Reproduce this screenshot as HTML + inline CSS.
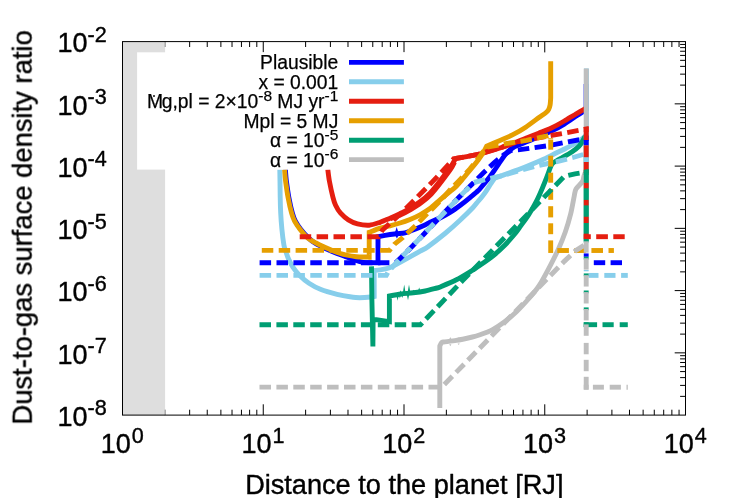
<!DOCTYPE html>
<html><head><meta charset="utf-8"><title>Dust-to-gas surface density ratio</title>
<style>html,body{margin:0;padding:0;background:#fff}svg{display:block}text{font-family:"Liberation Sans",sans-serif;fill:#000;stroke:#000;stroke-width:0.4px;stroke-linejoin:round}</style>
</head><body>
<svg width="747" height="498" viewBox="0 0 747 498">
<rect x="0" y="0" width="747" height="498" fill="#fff"/>
<g stroke="#000" stroke-width="1" fill="none">
<path d="M164.87 415.10V409.70M164.87 41.60V47.00"/>
<path d="M189.65 415.10V409.70M189.65 41.60V47.00"/>
<path d="M207.24 415.10V409.70M207.24 41.60V47.00"/>
<path d="M220.88 415.10V409.70M220.88 41.60V47.00"/>
<path d="M232.02 415.10V409.70M232.02 41.60V47.00"/>
<path d="M241.45 415.10V409.70M241.45 41.60V47.00"/>
<path d="M249.61 415.10V409.70M249.61 41.60V47.00"/>
<path d="M256.81 415.10V409.70M256.81 41.60V47.00"/>
<path d="M263.25 415.10V404.30M263.25 41.60V52.40"/>
<path d="M305.62 415.10V409.70M305.62 41.60V47.00"/>
<path d="M330.40 415.10V409.70M330.40 41.60V47.00"/>
<path d="M347.99 415.10V409.70M347.99 41.60V47.00"/>
<path d="M361.63 415.10V409.70M361.63 41.60V47.00"/>
<path d="M372.77 415.10V409.70M372.77 41.60V47.00"/>
<path d="M382.20 415.10V409.70M382.20 41.60V47.00"/>
<path d="M390.36 415.10V409.70M390.36 41.60V47.00"/>
<path d="M397.56 415.10V409.70M397.56 41.60V47.00"/>
<path d="M404.00 415.10V404.30M404.00 41.60V52.40"/>
<path d="M446.37 415.10V409.70M446.37 41.60V47.00"/>
<path d="M471.15 415.10V409.70M471.15 41.60V47.00"/>
<path d="M488.74 415.10V409.70M488.74 41.60V47.00"/>
<path d="M502.38 415.10V409.70M502.38 41.60V47.00"/>
<path d="M513.52 415.10V409.70M513.52 41.60V47.00"/>
<path d="M522.95 415.10V409.70M522.95 41.60V47.00"/>
<path d="M531.11 415.10V409.70M531.11 41.60V47.00"/>
<path d="M538.31 415.10V409.70M538.31 41.60V47.00"/>
<path d="M544.75 415.10V404.30M544.75 41.60V52.40"/>
<path d="M587.12 415.10V409.70M587.12 41.60V47.00"/>
<path d="M611.90 415.10V409.70M611.90 41.60V47.00"/>
<path d="M629.49 415.10V409.70M629.49 41.60V47.00"/>
<path d="M643.13 415.10V409.70M643.13 41.60V47.00"/>
<path d="M654.27 415.10V409.70M654.27 41.60V47.00"/>
<path d="M663.70 415.10V409.70M663.70 41.60V47.00"/>
<path d="M671.86 415.10V409.70M671.86 41.60V47.00"/>
<path d="M679.06 415.10V409.70M679.06 41.60V47.00"/>
<path d="M122.50 352.85H133.30M685.50 352.85H674.70"/>
<path d="M122.50 290.60H133.30M685.50 290.60H674.70"/>
<path d="M122.50 228.35H133.30M685.50 228.35H674.70"/>
<path d="M122.50 166.10H133.30M685.50 166.10H674.70"/>
<path d="M122.50 103.85H133.30M685.50 103.85H674.70"/>
<path d="M122.50 396.36H127.90M685.50 396.36H680.10"/>
<path d="M122.50 385.40H127.90M685.50 385.40H680.10"/>
<path d="M122.50 377.62H127.90M685.50 377.62H680.10"/>
<path d="M122.50 371.59H127.90M685.50 371.59H680.10"/>
<path d="M122.50 366.66H127.90M685.50 366.66H680.10"/>
<path d="M122.50 362.49H127.90M685.50 362.49H680.10"/>
<path d="M122.50 358.88H127.90M685.50 358.88H680.10"/>
<path d="M122.50 355.70H127.90M685.50 355.70H680.10"/>
<path d="M122.50 334.11H127.90M685.50 334.11H680.10"/>
<path d="M122.50 323.15H127.90M685.50 323.15H680.10"/>
<path d="M122.50 315.37H127.90M685.50 315.37H680.10"/>
<path d="M122.50 309.34H127.90M685.50 309.34H680.10"/>
<path d="M122.50 304.41H127.90M685.50 304.41H680.10"/>
<path d="M122.50 300.24H127.90M685.50 300.24H680.10"/>
<path d="M122.50 296.63H127.90M685.50 296.63H680.10"/>
<path d="M122.50 293.45H127.90M685.50 293.45H680.10"/>
<path d="M122.50 271.86H127.90M685.50 271.86H680.10"/>
<path d="M122.50 260.90H127.90M685.50 260.90H680.10"/>
<path d="M122.50 253.12H127.90M685.50 253.12H680.10"/>
<path d="M122.50 247.09H127.90M685.50 247.09H680.10"/>
<path d="M122.50 242.16H127.90M685.50 242.16H680.10"/>
<path d="M122.50 237.99H127.90M685.50 237.99H680.10"/>
<path d="M122.50 234.38H127.90M685.50 234.38H680.10"/>
<path d="M122.50 231.20H127.90M685.50 231.20H680.10"/>
<path d="M122.50 209.61H127.90M685.50 209.61H680.10"/>
<path d="M122.50 198.65H127.90M685.50 198.65H680.10"/>
<path d="M122.50 190.87H127.90M685.50 190.87H680.10"/>
<path d="M122.50 184.84H127.90M685.50 184.84H680.10"/>
<path d="M122.50 179.91H127.90M685.50 179.91H680.10"/>
<path d="M122.50 175.74H127.90M685.50 175.74H680.10"/>
<path d="M122.50 172.13H127.90M685.50 172.13H680.10"/>
<path d="M122.50 168.95H127.90M685.50 168.95H680.10"/>
<path d="M122.50 147.36H127.90M685.50 147.36H680.10"/>
<path d="M122.50 136.40H127.90M685.50 136.40H680.10"/>
<path d="M122.50 128.62H127.90M685.50 128.62H680.10"/>
<path d="M122.50 122.59H127.90M685.50 122.59H680.10"/>
<path d="M122.50 117.66H127.90M685.50 117.66H680.10"/>
<path d="M122.50 113.49H127.90M685.50 113.49H680.10"/>
<path d="M122.50 109.88H127.90M685.50 109.88H680.10"/>
<path d="M122.50 106.70H127.90M685.50 106.70H680.10"/>
<path d="M122.50 85.11H127.90M685.50 85.11H680.10"/>
<path d="M122.50 74.15H127.90M685.50 74.15H680.10"/>
<path d="M122.50 66.37H127.90M685.50 66.37H680.10"/>
<path d="M122.50 60.34H127.90M685.50 60.34H680.10"/>
<path d="M122.50 55.41H127.90M685.50 55.41H680.10"/>
<path d="M122.50 51.24H127.90M685.50 51.24H680.10"/>
<path d="M122.50 47.63H127.90M685.50 47.63H680.10"/>
<path d="M122.50 44.45H127.90M685.50 44.45H680.10"/>
</g>
<rect x="122.5" y="41.6" width="42.6" height="373.5" fill="#dedede"/>
<path stroke="#b4b4b4" stroke-width="1" d="M164.87 415.10V409.70M164.87 41.60V47.00"/>
<g fill="none" stroke-linejoin="miter" stroke-miterlimit="3" stroke-linecap="butt" stroke-width="4.9">
<path stroke="#0000ff" d="M285.4 169.5C285.5 171.0 285.9 177.4 286.4 181.1C286.9 184.8 288.0 192.8 288.8 197.1C289.6 201.4 291.5 210.0 292.4 213.2C293.3 216.4 294.3 219.1 295.4 221.2C296.5 223.3 299.0 227.1 300.7 229.3C302.4 231.5 306.1 235.7 308.1 237.6C310.1 239.5 313.8 242.4 316.0 243.8C318.2 245.2 321.9 246.8 324.3 247.9C326.7 249.0 331.4 251.1 334.0 252.2C336.6 253.3 341.6 255.1 344.0 256.0C346.4 256.9 349.9 258.3 352.0 259.0C354.1 259.7 358.1 261.1 360.0 261.6C361.9 262.1 363.6 262.5 366.0 262.6C368.4 262.7 376.4 262.7 378.0 262.7L378.0 236.6C378.9 236.4 382.5 235.7 385.0 235.3C387.5 234.9 393.9 234.1 396.6 233.8C399.3 233.5 402.5 233.5 405.0 232.9C407.5 232.3 412.3 230.4 415.0 229.3C417.7 228.2 423.0 225.9 425.0 225.0C427.0 224.1 428.0 223.2 430.0 222.3C432.0 221.4 437.3 219.3 440.0 218.0C442.7 216.7 447.3 214.2 450.0 212.5C452.7 210.8 457.3 207.5 460.0 205.5C462.7 203.5 467.6 199.6 470.0 197.6C472.4 195.6 476.0 192.8 478.0 190.8C480.0 188.8 483.6 184.4 485.2 182.5C486.8 180.6 488.8 178.1 490.0 176.5C491.2 174.9 492.7 172.9 494.2 170.7C495.7 168.5 499.8 162.3 501.5 159.9C503.2 157.5 505.5 154.3 506.9 152.7C508.3 151.1 510.8 149.1 512.3 148.1C513.8 147.1 515.6 146.2 518.0 145.2C520.4 144.2 525.5 142.4 530.0 140.5C534.5 138.6 546.8 133.3 551.4 131.1C556.0 128.9 560.9 126.2 564.3 124.1C567.7 122.0 574.5 117.1 577.1 115.4C579.7 113.7 582.3 112.2 583.5 111.4C584.7 110.6 585.7 109.8 586.1 109.5L586.1 84.0"/>
<path stroke="#87ceeb" d="M279.8 169.5C279.9 173.2 280.1 191.3 280.2 197.1C280.3 202.9 280.5 208.9 280.7 213.2C280.9 217.5 281.5 225.1 281.9 229.3C282.3 233.5 283.4 242.1 283.9 245.0C284.4 247.9 285.1 249.2 285.7 251.1C286.3 253.0 287.6 257.0 288.6 259.1C289.6 261.2 291.5 265.0 292.9 267.1C294.3 269.2 297.3 273.1 299.4 275.2C301.5 277.3 306.1 281.3 309.0 283.2C311.9 285.1 317.3 288.1 321.0 289.6C324.7 291.1 333.2 293.4 337.1 294.4C341.0 295.4 347.0 296.4 350.0 296.8C353.0 297.2 356.8 297.7 359.6 297.7C362.4 297.7 368.9 297.2 370.8 297.0C372.7 296.8 373.7 296.6 374.2 296.5L374.2 270.5C375.0 270.4 378.2 270.1 380.0 269.8C381.8 269.5 385.9 269.0 388.0 268.3C390.1 267.6 393.9 265.7 396.0 264.6C398.1 263.5 400.9 262.0 404.1 260.2C407.3 258.4 417.0 253.0 420.2 251.2C423.4 249.4 424.7 249.1 428.0 246.7C431.3 244.3 440.7 237.0 445.0 233.5C449.3 230.0 456.3 223.8 460.0 220.3C463.7 216.8 470.6 210.0 473.0 207.5C475.4 205.0 476.8 202.9 478.0 201.5C479.2 200.1 480.9 198.1 482.0 196.7C483.1 195.3 484.9 192.9 486.0 191.3C487.1 189.7 488.9 186.7 490.0 185.0C491.1 183.3 493.9 179.2 494.5 178.3C496.6 177.5 506.0 174.1 510.3 172.5C514.6 170.9 521.9 168.3 526.4 166.5C530.9 164.7 540.1 160.8 544.1 159.0C548.1 157.2 553.2 154.4 556.1 153.0C559.0 151.6 563.7 149.4 566.1 148.2C568.5 147.0 572.0 145.3 574.1 144.0C576.2 142.7 580.5 140.0 582.1 138.8C583.7 137.6 585.8 135.5 586.4 135.0L586.4 68.6"/>
<path stroke="#e51e10" d="M327.8 169.5C328.0 171.0 328.7 177.4 329.4 181.1C330.1 184.8 332.1 193.9 332.9 197.1C333.7 200.3 334.6 203.1 335.6 205.2C336.6 207.3 338.9 211.3 340.6 213.2C342.3 215.1 346.0 218.4 348.3 219.8C350.6 221.2 354.7 223.2 357.5 223.9C360.3 224.6 366.2 225.4 369.2 225.2C372.2 225.0 377.2 223.2 380.0 222.3C382.8 221.4 387.3 219.4 390.0 218.3C392.7 217.2 397.3 215.1 400.0 213.8C402.7 212.5 407.3 210.0 410.0 208.4C412.7 206.8 417.3 203.8 420.0 201.8C422.7 199.8 427.3 196.0 430.0 193.2C432.7 190.4 437.3 184.4 440.0 181.0C442.7 177.6 447.9 171.0 450.0 168.0C452.1 165.0 454.8 159.9 455.5 158.6C458.5 158.0 472.0 155.9 478.2 154.4C484.4 152.9 496.0 149.3 502.3 147.2C508.6 145.1 520.9 140.2 525.7 138.3C530.5 136.4 535.2 134.7 538.6 133.3C542.0 131.9 548.0 129.6 551.4 128.0C554.8 126.4 560.9 123.0 564.3 121.0C567.7 119.0 574.5 114.8 577.1 113.3C579.7 111.8 582.2 110.3 583.5 109.6C584.8 108.9 586.3 108.5 586.7 108.3"/>
<path stroke="#e51e10" d="M390.3 218.6C391.7 218.1 398.0 215.9 400.8 214.7C403.6 213.5 408.3 211.0 411.0 209.4C413.7 207.8 418.4 204.9 421.1 202.9C423.8 200.9 428.4 197.1 431.1 194.3C433.8 191.5 438.5 185.5 441.1 182.1C443.7 178.7 449.0 171.7 450.8 169.0C452.6 166.3 454.1 162.9 454.6 162.0"/>
<path stroke="#e69f00" d="M284.6 169.5C284.7 171.0 285.1 177.4 285.6 181.1C286.1 184.8 287.2 192.8 288.0 197.1C288.8 201.4 290.7 210.0 291.6 213.2C292.5 216.4 293.5 219.1 294.6 221.2C295.7 223.3 298.3 227.1 300.0 229.3C301.7 231.5 305.5 236.0 307.6 237.8C309.7 239.6 313.8 241.8 316.0 243.0C318.2 244.2 321.1 245.6 324.3 247.0C327.5 248.4 336.0 252.2 340.3 253.5C344.6 254.8 352.8 256.2 356.4 256.7C360.0 257.2 365.9 256.9 367.6 257.0C369.3 257.1 369.0 257.2 369.2 257.2L369.2 232.3C370.6 231.8 377.2 229.1 380.0 228.2C382.8 227.3 387.3 226.5 390.0 225.8C392.7 225.1 397.3 223.8 400.0 223.0C402.7 222.2 407.3 220.6 410.0 219.5C412.7 218.4 417.3 216.3 420.0 214.8C422.7 213.3 427.3 210.5 430.0 208.5C432.7 206.5 437.3 202.1 440.0 199.8C442.7 197.5 448.0 193.1 450.0 191.5C452.0 189.9 453.4 189.1 455.0 187.5C456.6 185.9 460.0 182.1 462.0 179.8C464.0 177.5 467.8 172.8 470.0 170.2C472.2 167.6 476.2 162.7 478.2 160.0C480.2 157.3 483.6 151.9 484.7 150.1C485.8 148.3 486.3 146.7 486.6 146.2C488.4 145.4 496.5 141.9 500.0 140.4C503.5 138.9 509.5 136.5 512.9 134.7C516.3 132.9 522.3 129.5 525.7 127.2C529.1 124.9 536.0 119.7 538.6 117.8C541.2 115.9 544.2 114.1 545.5 113.0C546.8 111.9 548.0 110.7 548.6 109.6C549.2 108.5 549.8 106.5 550.1 105.0C550.4 103.5 550.6 98.9 550.7 98.0L550.7 61.2"/>
<path stroke="#009e73" d="M371.5 266.4L371.9 300.0L372.9 346.5L373.1 319.6L376.4 319.7L389.4 321.6L389.4 296.0C391.0 295.7 397.9 294.4 401.1 294.0C404.3 293.6 410.0 293.2 413.2 292.8C416.4 292.4 422.0 291.6 425.2 291.0C428.4 290.4 435.0 288.5 437.0 288.0C439.0 287.5 437.7 288.0 440.3 286.9C442.9 285.8 452.4 281.8 456.4 279.8C460.4 277.8 466.9 273.8 470.0 271.9C473.1 270.0 476.9 267.3 480.0 265.2C483.1 263.1 489.8 258.5 493.1 255.8C496.4 253.1 501.9 248.1 505.0 245.0C508.1 241.9 514.2 234.7 516.2 232.3C518.2 229.9 518.3 229.3 520.0 226.9C521.7 224.5 526.6 218.1 529.0 214.2C531.4 210.3 535.6 203.1 538.0 198.0C540.4 192.9 545.5 180.4 547.1 176.3C548.7 172.2 549.6 169.2 550.3 167.5C551.0 165.8 551.9 164.2 552.6 163.4C553.3 162.6 554.3 162.1 555.6 161.3C556.9 160.5 560.0 158.8 562.2 157.6C564.4 156.4 569.6 153.6 571.8 152.1C574.0 150.6 577.6 147.7 579.0 146.3C580.4 144.9 581.8 142.5 582.5 141.3C583.2 140.1 584.0 138.2 584.5 137.5C585.0 136.8 586.0 136.2 586.2 136.0L586.2 241.3"/>
<path stroke="#bebebe" d="M439.8 407.9L439.8 346.0C440.0 345.6 441.0 343.2 441.5 342.7C442.0 342.2 441.5 342.3 443.5 342.0C445.5 341.7 452.5 341.1 456.4 340.4C460.3 339.7 469.3 337.7 472.4 337.0C475.5 336.3 477.2 335.8 480.0 334.8C482.8 333.8 489.8 331.1 493.1 329.3C496.4 327.5 501.9 323.8 505.0 321.5C508.1 319.2 513.1 314.9 516.2 312.0C519.3 309.1 524.9 303.0 528.0 299.5C531.1 296.0 536.3 290.1 539.3 285.4C542.3 280.7 548.2 269.6 550.8 264.6C553.4 259.6 557.0 252.3 558.9 248.0C560.8 243.7 563.6 236.8 565.2 232.3C566.8 227.8 569.4 219.0 570.6 214.2C571.8 209.4 573.5 199.6 574.2 196.2C574.9 192.8 574.9 190.8 576.0 188.9C577.1 187.0 581.3 183.4 582.4 181.7C583.5 180.0 583.4 177.9 583.9 176.3C584.4 174.7 585.9 170.8 586.2 170.0L586.2 68.5"/>
<polygon fill="#bebebe" stroke="none" points="449.10,339.80 450.30,336.90 451.50,339.80"/>
<polygon fill="#bebebe" stroke="none" points="449.20,344.20 450.30,346.20 451.40,344.20"/>
<polygon fill="#bebebe" stroke="none" points="457.60,339.00 458.70,337.40 459.80,339.00"/>
<polygon fill="#bebebe" stroke="none" points="457.60,343.50 458.70,345.00 459.80,343.50"/>
<polygon fill="#0000ff" stroke="none" points="395.10,232.00 396.70,226.90 398.30,232.00"/>
<polygon fill="#0000ff" stroke="none" points="395.50,235.80 396.90,238.60 398.30,235.80"/>
<polygon fill="#009e73" stroke="none" points="396.50,295.50 397.60,300.80 398.70,295.50"/>
<polygon fill="#009e73" stroke="none" points="399.00,295.30 399.90,298.60 400.80,295.30"/>
<polygon fill="#009e73" stroke="none" points="401.40,295.10 402.30,298.00 403.20,295.10"/>
<polygon fill="#009e73" stroke="none" points="402.90,292.50 404.20,284.60 405.50,292.50"/>
<polygon fill="#009e73" stroke="none" points="407.70,292.00 409.00,284.60 410.30,292.00"/>
<polygon fill="#009e73" stroke="none" points="406.80,294.80 408.00,300.20 409.20,294.80"/>
<polygon fill="#009e73" stroke="none" points="418.00,291.00 419.20,287.60 420.40,291.00"/>
<polygon fill="#009e73" stroke="none" points="399.50,293.00 400.50,290.30 401.50,293.00"/>
<polygon fill="#009e73" stroke="none" points="412.50,291.80 413.50,289.80 414.50,291.80"/>
<polyline stroke="#0000ff" stroke-dasharray="11.5 5.4" stroke-dashoffset="0.0" points="259.6,262.7 395.7,262.7 401.3,257.3 413.3,245.2 424.3,233.7 436.0,221.3 448.0,208.8 459.0,197.3 470.2,186.0 483.0,173.3 494.3,162.6 503.9,154.8 511.0,150.5 520.0,149.6 550.0,145.4 565.0,142.4 586.2,138.5 586.2,141.0"/>
<line stroke="#0000ff" x1="586.20" y1="140.00" x2="586.20" y2="145.40"/>
<line stroke="#0000ff" x1="586.20" y1="253.40" x2="586.20" y2="256.80"/>
<line stroke="#0000ff" x1="593.80" y1="262.70" x2="605.20" y2="262.70"/>
<line stroke="#0000ff" x1="610.60" y1="262.70" x2="622.00" y2="262.70"/>
<polyline stroke="#87ceeb" stroke-dasharray="11.5 5.4" stroke-dashoffset="0.0" points="259.6,275.4 386.3,275.4 388.3,271.6 401.3,257.3 413.3,245.2 424.3,233.7 436.0,221.3 448.0,208.8 459.0,197.3 470.2,186.0 473.0,183.2"/>
<polyline stroke="#87ceeb" stroke-dasharray="11.5 5.4" stroke-dashoffset="0.0" points="473.9,182.5 485.4,179.6 500.0,176.2 521.3,170.2 537.0,165.9 548.0,163.5 556.1,161.8 567.0,159.1 573.0,157.5 583.3,154.5 586.2,153.7 586.2,157.0"/>
<line stroke="#87ceeb" x1="586.20" y1="157.30" x2="586.20" y2="162.00"/>
<line stroke="#87ceeb" x1="586.20" y1="270.00" x2="586.20" y2="271.30"/>
<line stroke="#87ceeb" x1="588.60" y1="275.40" x2="598.50" y2="275.40"/>
<line stroke="#87ceeb" x1="604.30" y1="275.40" x2="615.50" y2="275.40"/>
<line stroke="#87ceeb" x1="621.10" y1="275.40" x2="627.80" y2="275.40"/>
<polyline stroke="#e51e10" stroke-dasharray="11.5 5.4" stroke-dashoffset="0.0" points="299.7,236.7 378.6,236.7 382.5,230.0 389.6,223.5 401.8,212.6 406.9,207.4 414.0,200.4 432.1,182.1 440.1,173.7 452.1,160.7 453.6,158.8 456.0,158.5 478.2,154.3 502.3,147.1 516.7,142.0 550.0,135.6 562.8,133.4 579.6,130.2 586.2,128.9 586.2,132.0"/>
<line stroke="#e51e10" x1="586.20" y1="127.00" x2="586.20" y2="140.00"/>
<line stroke="#e51e10" x1="586.20" y1="145.40" x2="586.20" y2="157.20"/>
<line stroke="#e51e10" x1="586.20" y1="162.00" x2="586.20" y2="173.00"/>
<line stroke="#e51e10" x1="586.20" y1="182.60" x2="586.20" y2="188.50"/>
<line stroke="#e51e10" x1="586.20" y1="199.70" x2="586.20" y2="205.60"/>
<line stroke="#e51e10" x1="586.20" y1="216.50" x2="586.20" y2="223.00"/>
<line stroke="#e51e10" x1="586.20" y1="233.40" x2="586.20" y2="239.15"/>
<line stroke="#e51e10" x1="583.75" y1="236.70" x2="590.80" y2="236.70"/>
<line stroke="#e51e10" x1="596.20" y1="236.70" x2="607.90" y2="236.70"/>
<line stroke="#e51e10" x1="613.30" y1="236.70" x2="624.70" y2="236.70"/>
<polyline stroke="#e69f00" stroke-dasharray="11.5 5.4" stroke-dashoffset="0.0" points="261.8,250.4 389.5,250.4 394.5,244.2 402.6,237.7 415.4,225.7 427.5,213.4 440.0,201.2 450.0,190.0 460.0,179.6 470.0,168.8 478.2,158.6 486.4,147.2 505.5,143.7 526.4,140.4 550.7,135.2 550.7,139.0"/>
<line stroke="#e69f00" x1="550.70" y1="139.50" x2="550.70" y2="149.70"/>
<line stroke="#e69f00" x1="550.70" y1="155.70" x2="550.70" y2="166.60"/>
<line stroke="#e69f00" x1="550.70" y1="172.70" x2="550.70" y2="182.70"/>
<line stroke="#e69f00" x1="550.70" y1="189.00" x2="550.70" y2="199.80"/>
<line stroke="#e69f00" x1="550.70" y1="206.20" x2="550.70" y2="217.40"/>
<line stroke="#e69f00" x1="550.70" y1="223.30" x2="550.70" y2="234.20"/>
<line stroke="#e69f00" x1="550.70" y1="240.40" x2="550.70" y2="252.95"/>
<line stroke="#e69f00" x1="557.30" y1="250.50" x2="568.90" y2="250.50"/>
<line stroke="#e69f00" x1="574.30" y1="250.50" x2="585.80" y2="250.50"/>
<line stroke="#e69f00" x1="591.40" y1="250.50" x2="603.00" y2="250.50"/>
<line stroke="#e69f00" x1="608.50" y1="250.50" x2="613.90" y2="250.50"/>
<polyline stroke="#009e73" stroke-dasharray="11.5 5.4" stroke-dashoffset="0.0" points="259.5,324.8 420.4,324.8 462.3,280.9 520.0,222.0 564.3,176.3 575.0,173.8 586.2,172.0 586.2,175.0"/>
<line stroke="#009e73" x1="586.20" y1="169.80" x2="586.20" y2="182.60"/>
<line stroke="#009e73" x1="586.20" y1="188.50" x2="586.20" y2="199.70"/>
<line stroke="#009e73" x1="586.20" y1="205.60" x2="586.20" y2="216.50"/>
<line stroke="#009e73" x1="586.20" y1="223.00" x2="586.20" y2="233.40"/>
<line stroke="#009e73" x1="586.20" y1="239.15" x2="586.20" y2="242.50"/>
<line stroke="#009e73" x1="586.20" y1="256.70" x2="586.20" y2="259.50"/>
<line stroke="#009e73" x1="586.20" y1="273.40" x2="586.20" y2="276.20"/>
<line stroke="#009e73" x1="586.20" y1="290.50" x2="586.20" y2="293.30"/>
<line stroke="#009e73" x1="586.20" y1="307.40" x2="586.20" y2="310.20"/>
<line stroke="#009e73" x1="586.20" y1="322.30" x2="586.20" y2="327.05"/>
<line stroke="#009e73" x1="583.75" y1="324.70" x2="597.10" y2="324.70"/>
<line stroke="#009e73" x1="602.50" y1="324.70" x2="613.70" y2="324.70"/>
<line stroke="#009e73" x1="619.70" y1="324.70" x2="627.80" y2="324.70"/>
<polyline stroke="#bebebe" stroke-dasharray="11.5 5.4" stroke-dashoffset="0.0" points="259.5,387.1 441.8,387.1 564.0,261.6 575.5,250.8 586.2,244.0 586.2,246.0"/>
<line stroke="#bebebe" x1="586.20" y1="241.30" x2="586.20" y2="252.70"/>
<line stroke="#bebebe" x1="586.20" y1="258.23" x2="586.20" y2="269.63"/>
<line stroke="#bebebe" x1="586.20" y1="275.16" x2="586.20" y2="286.56"/>
<line stroke="#bebebe" x1="586.20" y1="292.09" x2="586.20" y2="303.49"/>
<line stroke="#bebebe" x1="586.20" y1="309.02" x2="586.20" y2="320.42"/>
<line stroke="#bebebe" x1="586.20" y1="324.40" x2="586.20" y2="335.80"/>
<line stroke="#bebebe" x1="586.20" y1="342.88" x2="586.20" y2="354.28"/>
<line stroke="#bebebe" x1="586.20" y1="359.81" x2="586.20" y2="371.21"/>
<line stroke="#bebebe" x1="586.20" y1="376.80" x2="586.20" y2="389.65"/>
<line stroke="#bebebe" x1="583.75" y1="387.20" x2="588.60" y2="387.20"/>
<line stroke="#bebebe" x1="592.90" y1="387.20" x2="603.90" y2="387.20"/>
<line stroke="#bebebe" x1="609.70" y1="387.20" x2="620.90" y2="387.20"/>
<line stroke="#bebebe" x1="626.50" y1="387.20" x2="627.80" y2="387.20"/>
</g>
<rect x="137.1" y="52.3" width="275" height="117.3" fill="#fff"/>
<line x1="349" x2="403.9" y1="62.35" y2="62.35" stroke="#0000ff" stroke-width="4.9"/>
<line x1="349" x2="403.9" y1="81.81" y2="81.81" stroke="#87ceeb" stroke-width="4.9"/>
<line x1="349" x2="403.9" y1="101.27" y2="101.27" stroke="#e51e10" stroke-width="4.9"/>
<line x1="349" x2="403.9" y1="120.73" y2="120.73" stroke="#e69f00" stroke-width="4.9"/>
<line x1="349" x2="403.9" y1="140.19" y2="140.19" stroke="#009e73" stroke-width="4.9"/>
<line x1="349" x2="403.9" y1="159.65" y2="159.65" stroke="#bebebe" stroke-width="4.9"/>
<g opacity="0.999">
<text x="338.3" y="69.2" font-size="19.3" text-anchor="end" style="stroke-width:0.25px">Plausible</text>
<text x="338.3" y="88.7" font-size="19.3" text-anchor="end" style="stroke-width:0.25px">x = 0.001</text>
<text x="338.3" y="108.2" font-size="19.3" text-anchor="end" style="stroke-width:0.25px">M<tspan dx="-1.3">g,pl = 2×10</tspan><tspan font-size="15.5" dy="-7.6">-8</tspan><tspan dy="7.6"> MJ yr</tspan><tspan font-size="15.5" dy="-7.6">-1</tspan></text>
<text x="338.3" y="127.6" font-size="19.3" text-anchor="end" style="stroke-width:0.25px">Mpl = 5 MJ</text>
<text x="338.3" y="147.1" font-size="19.3" text-anchor="end" style="stroke-width:0.25px">α = 10<tspan font-size="15.5" dy="-7.6">-5</tspan></text>
<text x="338.3" y="166.6" font-size="19.3" text-anchor="end" style="stroke-width:0.25px">α = 10<tspan font-size="15.5" dy="-7.6">-6</tspan></text>
<circle cx="154.0" cy="96.0" r="0.95" fill="#000"/>
<text x="100.7" y="453" font-size="27.0">10</text>
<text x="131.8" y="442.8" font-size="21.6">0</text>
<text x="241.4" y="453" font-size="27.0">10</text>
<text x="272.6" y="442.8" font-size="21.6">1</text>
<text x="382.2" y="453" font-size="27.0">10</text>
<text x="413.3" y="442.8" font-size="21.6">2</text>
<text x="523.0" y="453" font-size="27.0">10</text>
<text x="554.0" y="442.8" font-size="21.6">3</text>
<text x="663.7" y="453" font-size="27.0">10</text>
<text x="694.8" y="442.8" font-size="21.6">4</text>
<text x="57.6" y="425.8" font-size="27.0">10</text>
<text x="87.6" y="415.2" font-size="21.6">-8</text>
<text x="57.6" y="363.6" font-size="27.0">10</text>
<text x="87.6" y="353.0" font-size="21.6">-7</text>
<text x="57.6" y="301.3" font-size="27.0">10</text>
<text x="87.6" y="290.7" font-size="21.6">-6</text>
<text x="57.6" y="239.1" font-size="27.0">10</text>
<text x="87.6" y="228.5" font-size="21.6">-5</text>
<text x="57.6" y="176.8" font-size="27.0">10</text>
<text x="87.6" y="166.2" font-size="21.6">-4</text>
<text x="57.6" y="114.6" font-size="27.0">10</text>
<text x="87.6" y="104.0" font-size="21.6">-3</text>
<text x="57.6" y="52.3" font-size="27.0">10</text>
<text x="87.6" y="41.7" font-size="21.6">-2</text>
<text x="404.3" y="493.7" font-size="27.15" text-anchor="middle">Distance to the planet [RJ]</text>
<text transform="translate(31.7,227.4) rotate(-90)" font-size="27.4" text-anchor="middle">Dust-to-gas surface density ratio</text>
</g>
<rect x="122.50" y="41.60" width="563.00" height="373.50" fill="none" stroke="#000" stroke-width="1"/>
</svg>
</body></html>
